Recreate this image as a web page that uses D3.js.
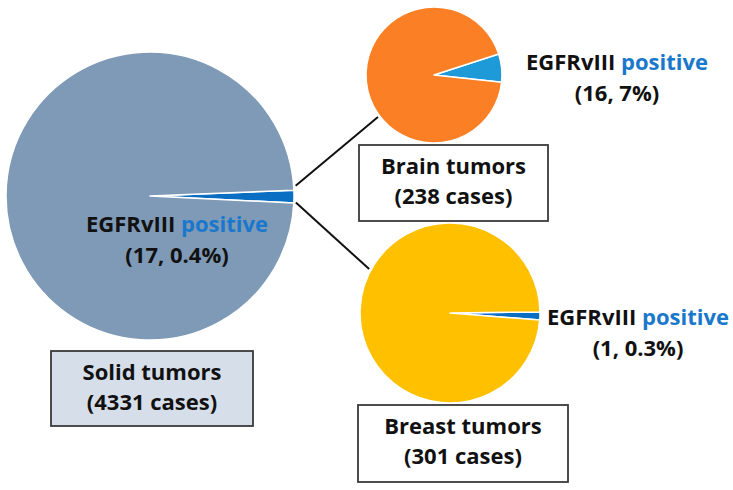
<!DOCTYPE html>
<html>
<head>
<meta charset="utf-8">
<script src="https://cdn.jsdelivr.net/npm/d3@7"></script>
<style>
  html, body { margin: 0; padding: 0; background: #fff; }
  svg { display: block; }
  text { font-family: "Open Sans", "DejaVu Sans", sans-serif; font-weight: 700; }
</style>
</head>
<body>
<div id="content"><svg width="733" height="490"></svg></div>
<script>
// data
var groupNames = ["Solid tumors", "Brain tumors", "Breast tumors"];
var totalCases = [4331, 238, 301];
var positiveCases = [17, 16, 1];
var positiveName = "EGFRvIII";
var positiveWord = "positive";

// layout (pixels / radians) kept apart from the data
var pieCenters = [[150, 196], [434, 75], [450, 313]];
var pieRadii = [144, 68, 90];
var pieStart = [1.53, 1.257, 1.56];           // where the positive slice begins
var pieColors = ["#7f9ab6", "#fb7f24", "#ffc000"];
var sliceColors = ["#0a6fc2", "#1f9ad8", "#0a6fc2"];
var minAngle = 0.09;                           // thin slices are widened to stay visible
var boxes = [[51, 351, 202, 75], [359, 145, 189, 76], [358, 405, 210, 77]];
var boxFill = ["#d6dfe9", "#fff", "#fff"];
var labelPos = [[177, 232], [617, 70], [638, 325]];

var svg = d3.select('#content svg');

var fmtPct = function(v) {
    var p = v * 100;
    return (p < 1 ? d3.format('.1f')(p) : d3.format('.0f')(p)) + '%';
};

groupNames.forEach(function(name, i) {
    var pie = d3.pie()
        .sort(null)
        .value(function(d) { return d; })
        .startAngle(pieStart[i])
        .endAngle(pieStart[i] + 2 * Math.PI);

    var arcs = pie([positiveCases[i], totalCases[i] - positiveCases[i]]);
    if (arcs[0].endAngle - arcs[0].startAngle < minAngle) {
        arcs[0].endAngle = arcs[0].startAngle + minAngle;
        arcs[1].startAngle = arcs[0].endAngle;
    }

    var arc = d3.arc().innerRadius(0).outerRadius(pieRadii[i]);

    var g = svg.append('g')
        .attr('transform', 'translate(' + pieCenters[i] + ')');

    g.selectAll('path')
        .data(arcs)
        .enter().append('path')
        .attr('d', arc)
        .attr('fill', function(d, j) { return j === 0 ? sliceColors[i] : pieColors[i]; })
        .attr('stroke', '#fff')
        .attr('stroke-width', 1.5)
        .attr('stroke-linejoin', 'round');
});

// connectors from the big pie's slice to the two smaller pies
var bigC = pieCenters[0], bigR = pieRadii[0] + 2;
var connectors = [
    [d3.pointRadial(1.50, bigR), 1, d3.pointRadial(4.07, pieRadii[1] + 2)],
    [d3.pointRadial(1.615, bigR), 2, d3.pointRadial(5.21, pieRadii[2] + 2)]
];
connectors.forEach(function(c) {
    var to = pieCenters[c[1]];
    svg.append('line')
        .attr('x1', bigC[0] + c[0][0]).attr('y1', bigC[1] + c[0][1])
        .attr('x2', to[0] + c[2][0]).attr('y2', to[1] + c[2][1])
        .attr('stroke', '#111')
        .attr('stroke-width', 2);
});

// group boxes
groupNames.forEach(function(name, i) {
    var b = boxes[i];
    svg.append('rect')
        .attr('x', b[0]).attr('y', b[1])
        .attr('width', b[2]).attr('height', b[3])
        .attr('fill', boxFill[i])
        .attr('stroke', '#3a3a3a')
        .attr('stroke-width', 1.8);

    var t = svg.append('text')
        .attr('text-anchor', 'middle')
        .attr('font-size', 22)
        .attr('fill', '#111');
    t.append('tspan')
        .attr('x', b[0] + b[2] / 2).attr('y', b[1] + 29)
        .text(name);
    t.append('tspan')
        .attr('x', b[0] + b[2] / 2).attr('y', b[1] + 59)
        .text('(' + totalCases[i] + ' cases)');
});

// positive slice labels
groupNames.forEach(function(name, i) {
    var p = labelPos[i];
    var t = svg.append('text')
        .attr('text-anchor', 'middle')
        .attr('font-size', 22)
        .attr('fill', '#111');
    var l1 = t.append('tspan').attr('x', p[0]).attr('y', p[1]);
    l1.append('tspan').text(positiveName + ' ');
    l1.append('tspan').attr('fill', '#1a78cc').text(positiveWord);
    t.append('tspan')
        .attr('x', p[0]).attr('y', p[1] + 31)
        .text('(' + positiveCases[i] + ', ' + fmtPct(positiveCases[i] / totalCases[i]) + ')');
});
</script>
</body>
</html>
